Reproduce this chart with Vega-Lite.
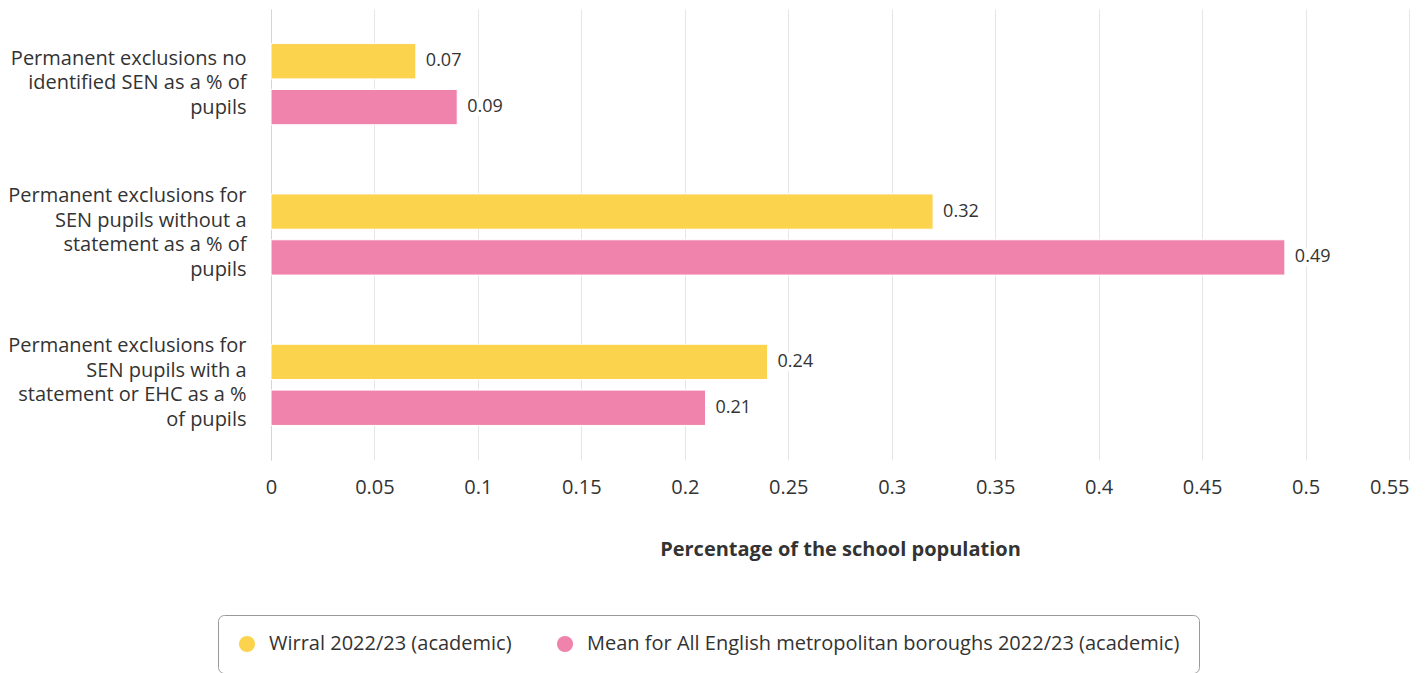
{
  "$schema": "https://vega.github.io/schema/vega-lite/v6.json",
  "autosize": {"type": "none"},
  "padding": {"left": 271, "top": 9, "right": 16, "bottom": 213},
  "width": 1138,
  "height": 451,
  "background": "white",
  "config": {
    "font": "Open Sans",
    "view": {"stroke": null},
    "text": {"font": "Open Sans"}
  },
  "data": {
    "values": [
      {"category": "Permanent exclusions no identified SEN as a % of pupils", "series": "Wirral 2022/23 (academic)", "value": 0.07},
      {"category": "Permanent exclusions no identified SEN as a % of pupils", "series": "Mean for All English metropolitan boroughs 2022/23 (academic)", "value": 0.09},
      {"category": "Permanent exclusions for SEN pupils without a statement as a % of pupils", "series": "Wirral 2022/23 (academic)", "value": 0.32},
      {"category": "Permanent exclusions for SEN pupils without a statement as a % of pupils", "series": "Mean for All English metropolitan boroughs 2022/23 (academic)", "value": 0.49},
      {"category": "Permanent exclusions for SEN pupils with a statement or EHC as a % of pupils", "series": "Wirral 2022/23 (academic)", "value": 0.24},
      {"category": "Permanent exclusions for SEN pupils with a statement or EHC as a % of pupils", "series": "Mean for All English metropolitan boroughs 2022/23 (academic)", "value": 0.21}
    ]
  },
  "encoding": {
    "y": {
      "field": "category",
      "type": "nominal",
      "sort": null,
      "scale": {"paddingInner": 0.46, "paddingOuter": 0.23},
      "axis": {
        "title": null,
        "domain": true,
        "domainColor": "#ccd6eb",
        "domainWidth": 1,
        "ticks": false,
        "grid": false,
        "labelPadding": 25,
        "labelLimit": 400,
        "labelFontSize": 20,
        "labelColor": "#333333",
        "labelLineHeight": 24.5,
        "labelAlign": "right",
        "labelBaseline": "middle",
        "labelOffset": {"condition": {"test": "indexof(datum.value, 'no identified') >= 0", "value": -25.5}, "value": -38.5},
        "labelExpr": "indexof(datum.value, 'no identified') >= 0 ? ['Permanent exclusions no', 'identified SEN as a % of', 'pupils'] : indexof(datum.value, 'without') >= 0 ? ['Permanent exclusions for', 'SEN pupils without a', 'statement as a % of', 'pupils'] : ['Permanent exclusions for', 'SEN pupils with a', 'statement or EHC as a %', 'of pupils']"
      }
    },
    "yOffset": {
      "field": "series",
      "type": "nominal",
      "sort": "descending",
      "scale": {"paddingInner": 0.23, "paddingOuter": 0}
    },
    "x": {
      "field": "value",
      "type": "quantitative",
      "scale": {"domain": [0, 0.55], "nice": false, "zero": true},
      "axis": {
        "title": "Percentage of the school population",
        "titleFontSize": 20,
        "titleFontWeight": "bold",
        "titleColor": "#333333",
        "titlePadding": 42,
        "values": [0, 0.05, 0.1, 0.15, 0.2, 0.25, 0.3, 0.35, 0.4, 0.45, 0.5, 0.55],
        "format": ".2~f",
        "domain": false,
        "ticks": false,
        "grid": true,
        "gridColor": "#e6e6e6",
        "gridWidth": 1,
        "labelFontSize": 20,
        "labelColor": "#333333",
        "labelPadding": 17,
        "labelFlush": false,
        "labelAlign": {"condition": {"test": "datum.value > 0.54", "value": "right"}, "value": "center"}
      }
    }
  },
  "layer": [
    {
      "mark": {"type": "bar", "stroke": "white", "strokeWidth": 1},
      "encoding": {
        "color": {
          "field": "series",
          "type": "nominal",
          "sort": "descending",
          "scale": {"range": ["#fbd34d", "#ef83ac"]},
          "legend": {
            "title": null,
            "orient": "none",
            "legendX": -53,
            "legendY": 606,
            "direction": "horizontal",
            "symbolType": "circle",
            "symbolSize": 260,
            "symbolStrokeWidth": 0,
            "labelFontSize": 20,
            "labelColor": "#333333",
            "labelLimit": 900,
            "labelOffset": 12,
            "columnPadding": 43,
            "padding": 19,
            "strokeColor": "#999999",
            "cornerRadius": 6,
            "fillColor": "white"
          }
        }
      }
    },
    {
      "mark": {"type": "text", "align": "left", "baseline": "middle", "dx": 10, "fontSize": 18, "stroke": "white", "strokeWidth": 8, "fill": "white"},
      "encoding": {"text": {"field": "value", "type": "quantitative", "format": ".2f"}}
    },
    {
      "mark": {"type": "text", "align": "left", "baseline": "middle", "dx": 10, "fontSize": 18, "color": "#333333"},
      "encoding": {"text": {"field": "value", "type": "quantitative", "format": ".2f"}}
    }
  ]
}
